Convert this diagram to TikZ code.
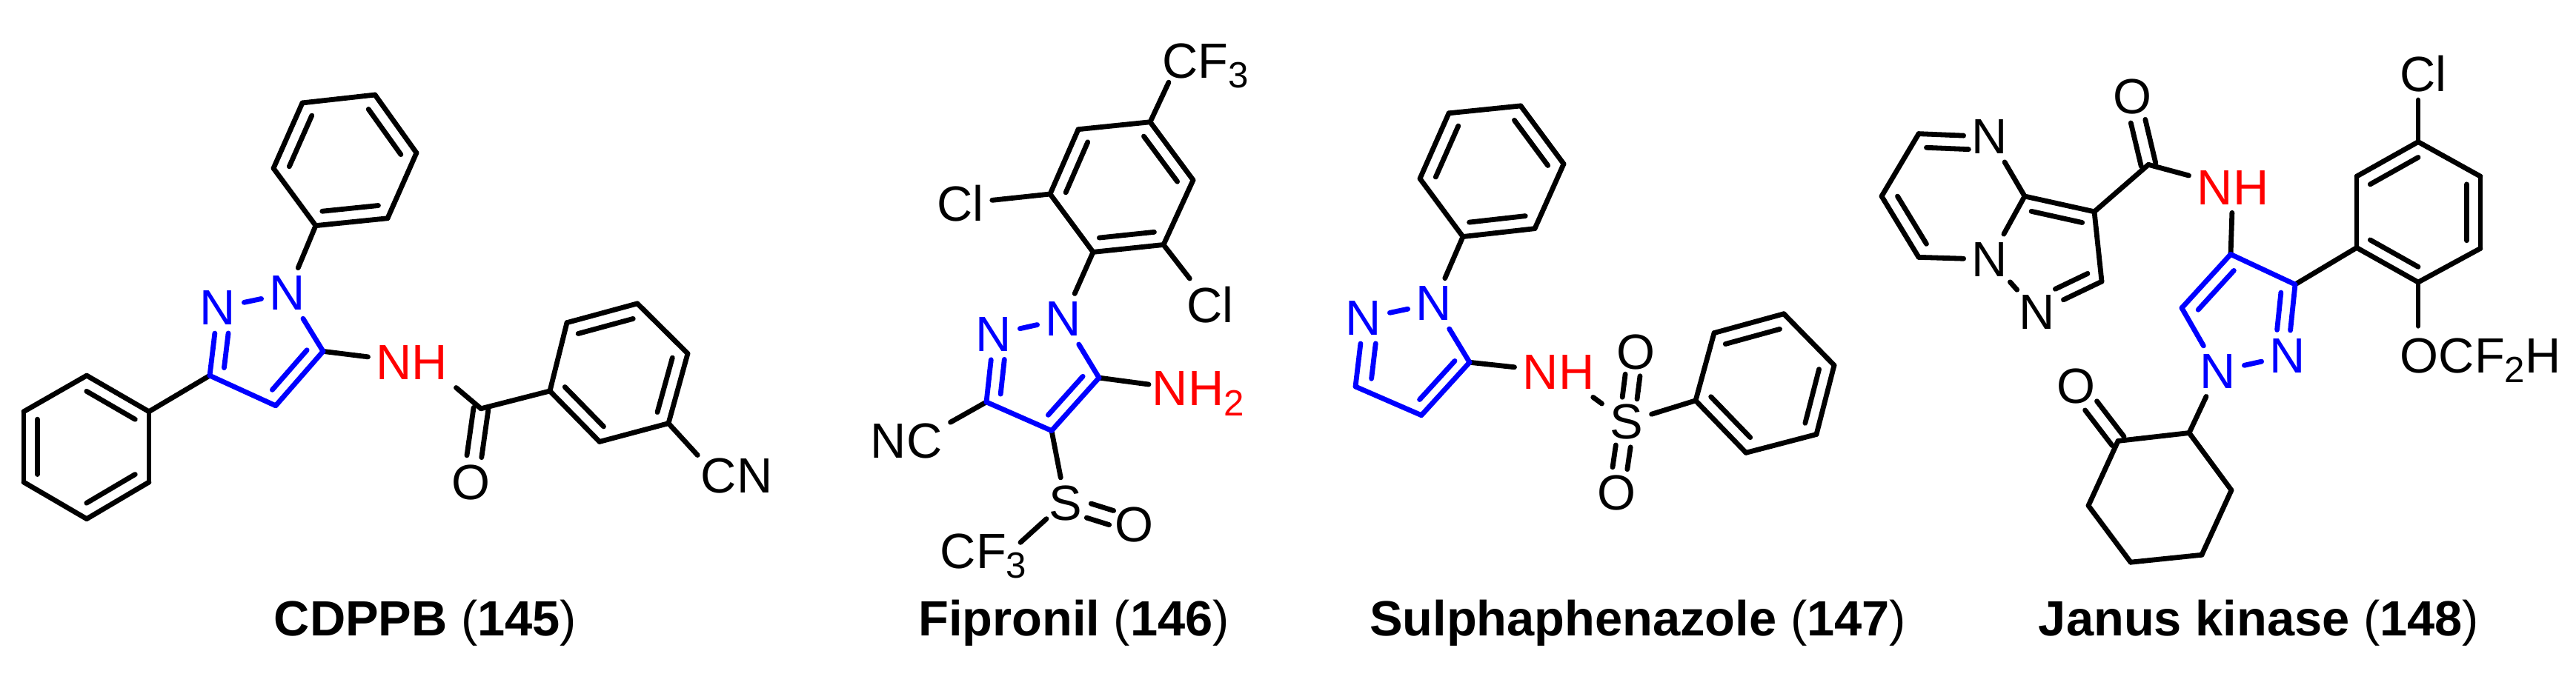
\documentclass[tikz,border=0pt]{standalone}
\usepackage{fontspec}
\setmainfont{Liberation Sans}
\usetikzlibrary{calc}

\definecolor{ringblue}{RGB}{0,0,255}
\definecolor{nhred}{RGB}{255,0,0}

\tikzset{
  bond/.style={color=black, line width=0.068cm, line cap=round},
  ringbond/.style={bond, color=ringblue},
  atom/.style={inner sep=3pt, font=\fontsize{19}{23}\selectfont},
  ringatom/.style={atom, text=ringblue},
  nhatom/.style={atom, text=nhred},
  caption/.style={anchor=base, inner sep=0pt, font=\fontsize{19}{23}\selectfont}
}

\newcommand{\subnum}[1]{\raisebox{-0.2em}{\fontsize{14}{14}\selectfont #1}}
% inner line of a ring double bond
\newcommand{\inbond}[5][bond]{\draw[#1] ($(#2)!#5!(#4)$) -- ($(#3)!#5!(#4)$);}
% free double bond, two lines round the axis
\newcommand{\bisbond}[4]{
  \foreach \s in {-0.1cm,0.1cm}
  {
  \draw[bond] ($(#1)!#3!(#2)!\s!90:(#2)$) -- ($(#2)!#4!(#1)!\s!-90:(#1)$);
  }
}

\begin{document}
\begin{tikzpicture}[x=0.01cm, y=-0.00992cm]
  \useasboundingbox (0,0) rectangle (3476,935.5);

  % CDPPB
  \foreach \name/\x/\y in {a1/32/560,a2/117/511,a3/201/560,a4/201/656,a5/117/706,a6/32/656,ca/116/608,
    b1/426/307,b2/523/297,b3/562/208,b4/506/129,b5/408/140,b6/369/229,cb/466/218,
    p3/283/511,p4/372/552,p5/436/478,cp/355/472,
    c1/649/556,d1/742/532,d2/765/439,d3/860/413,d4/928/481,d5/902/576,d6/809/601,cd/834/507}
  {
  \coordinate (\name) at (\x,\y);
  }
  \node[ringatom] (pn2) at (294,419) {N};
  \node[ringatom] (pn1) at (388,399) {N};
  \node[nhatom] (nh1) at (556,493) {NH};
  \node[atom] (o1) at (635,656) {O};
  \node[atom] (cn1) at (994,647) {CN};

  \foreach \a/\b in {a1/a2,a2/a3,a3/a4,a4/a5,a5/a6,a6/a1,b1/b2,b2/b3,b3/b4,b4/b5,b5/b6,b6/b1,
    d1/d2,d2/d3,d3/d4,d4/d5,d5/d6,d6/d1,a3/p3,b1/pn1,p5/nh1,c1/d1}
  {
  \draw[bond] (\a) -- (\b);
  }
  \foreach \a/\b in {a1/a6,a2/a3,a4/a5}{\inbond{\a}{\b}{ca}{0.22}}
  \foreach \a/\b in {b1/b2,b3/b4,b5/b6}{\inbond{\a}{\b}{cb}{0.22}}
  \foreach \a/\b in {d1/d6,d2/d3,d4/d5}{\inbond{\a}{\b}{cd}{0.22}}
  \foreach \a/\b in {p3/pn2,pn2/pn1,pn1/p5,p5/p4,p4/p3}
  {
  \draw[ringbond] (\a) -- (\b);
  }
  \inbond[ringbond, shorten >=0.2cm]{p3}{pn2}{cp}{0.27}
  \inbond[ringbond]{p4}{p5}{cp}{0.27}
  \draw[bond] (nh1.south east) -- (c1);
  \bisbond{c1}{o1}{0}{0.35}
  \draw[bond, shorten >=-0.1cm] (d5) -- (cn1.north west);
  \node[caption] (cap1) at (574,865) {\textbf{CDPPB} (\textbf{145})};

  % Fipronil
  \foreach \name/\x/\y in {e1/1475/343,e2/1570/333,e3/1610/245,e4/1552/166,e5/1455/176,e6/1417/264,ce/1513/254.5,
    q3/1331/547,q4/1419/586,q5/1483/514,cq/1402/507,
    f3a/1577/112,h2a/1550/523,f3b/1377/738,sb/1412/706}
  {
  \coordinate (\name) at (\x,\y);
  }
  \node[ringatom] (qn2) at (1341,455) {N};
  \node[ringatom] (qn1) at (1435,434) {N};
  \node[atom] (cl1) at (1296,277) {Cl};
  \node[atom] (cl2) at (1633,415) {Cl};
  \node[atom] (nc2) at (1223,600) {NC};
  \node[atom] (s2) at (1438,685) {S};
  \node[atom] (o2) at (1530,714) {O};
  \node[atom, anchor=base west] (cf3a) at (1557,106) {CF\subnum{3}};
  \node[atom, anchor=base west] (cf3b) at (1257.5,773) {CF\subnum{3}};
  \node[nhatom, anchor=base west] (nh2) at (1543.5,552) {NH\subnum{2}};

  \foreach \a/\b in {e1/e2,e2/e3,e3/e4,e4/e5,e5/e6,e6/e1,e4/f3a,e6/cl1,e2/cl2,e1/qn1,q5/h2a,q3/nc2.23,q4/s2,f3b/sb}
  {
  \draw[bond] (\a) -- (\b);
  }
  \foreach \a/\b in {e1/e2,e3/e4,e5/e6}{\inbond{\a}{\b}{ce}{0.22}}
  \foreach \a/\b in {q3/qn2,qn2/qn1,qn1/q5,q5/q4,q4/q3}
  {
  \draw[ringbond] (\a) -- (\b);
  }
  \inbond[ringbond, shorten >=0.2cm]{q3}{qn2}{cq}{0.27}
  \inbond[ringbond]{q4}{q5}{cq}{0.27}
  \bisbond{s2}{o2}{0.34}{0.33}
  \node[caption] (cap2) at (1449,865) {\textbf{Fipronil} (\textbf{146})};

  % Sulphaphenazole
  \foreach \name/\x/\y in {f1/1974/322,f2/2071/311,f3/2110/223,f4/2052/144,f5/1955/154,f6/1916/243,cf/2013/233,
    r3/1829/526,r4/1918/565,r5/1983/493,cr/1909/486,
    g1/2288/545,g2/2356/616,g3/2451/591,g4/2475/497,g5/2407/427,g6/2313/453,cg/2382/521.5}
  {
  \coordinate (\name) at (\x,\y);
  }
  \node[ringatom] (rn2) at (1840,433) {N};
  \node[ringatom] (rn1) at (1935,413) {N};
  \node[nhatom] (nh3) at (2103,506) {NH};
  \node[atom] (s3) at (2195,574) {S};
  \node[atom] (o3a) at (2207,479) {O};
  \node[atom] (o3b) at (2181,671) {O};

  \foreach \a/\b in {f1/f2,f2/f3,f3/f4,f4/f5,f5/f6,f6/f1,g1/g2,g2/g3,g3/g4,g4/g5,g5/g6,g6/g1,
    f1/rn1,r5/nh3,nh3/s3,s3/g1}
  {
  \draw[bond] (\a) -- (\b);
  }
  \foreach \a/\b in {f1/f2,f3/f4,f5/f6}{\inbond{\a}{\b}{cf}{0.22}}
  \foreach \a/\b in {g1/g2,g3/g4,g5/g6}{\inbond{\a}{\b}{cg}{0.22}}
  \foreach \a/\b in {r3/rn2,rn2/rn1,rn1/r5,r5/r4,r4/r3}
  {
  \draw[ringbond] (\a) -- (\b);
  }
  \inbond[ringbond, shorten >=0.2cm]{r3}{rn2}{cr}{0.27}
  \inbond[ringbond]{r4}{r5}{cr}{0.27}
  \bisbond{s3}{o3a}{0.34}{0.33}
  \bisbond{s3}{o3b}{0.34}{0.35}
  \node[caption] (cap3) at (2210,865) {\textbf{Sulphaphenazole} (\textbf{147})};

  % Janus kinase
  \foreach \name/\x/\y in {h1/2589/182,h3/2732/267,h5/2589/350,h6/2539/267,ch/2636.5/267.5,
    i1/2826/288,i2/2836/383,ci/2765.6/343,j1/2899/224,
    k3/3097/387,k4/3010/346,k5/2944/419,ck/3026/428,
    m1/3180/337,m2/3180/240,m3/3263/193,m4/3347/240,m5/3347/338,m6/3263/384,cm/3263/289,
    u1/2954/589,u2/2858/600,u3/2818/688,u4/2875/765,u5/2971/755,u6/3011/667}
  {
  \coordinate (\name) at (\x,\y);
  }
  \node[atom] (hn1) at (2685,186) {N};
  \node[atom] (hn2) at (2685,353) {N};
  \node[atom] (in1) at (2749,425) {N};
  \node[atom] (o4a) at (2877,131) {O};
  \node[atom] (o4b) at (2801,525) {O};
  \node[nhatom] (nh4) at (3013,255) {NH};
  \node[ringatom] (kn2) at (3087,484) {N};
  \node[ringatom] (kn1) at (2993,505) {N};
  \node[atom] (cl4) at (3270,100) {Cl};
  \node[atom, anchor=base west] (ocf) at (3227.5,507) {OCF\subnum{2}H};

  \foreach \a/\b in {h1/h6,h6/h5,h5/hn2,h1/hn1,hn1/h3,h3/hn2,h3/i1,i1/i2,i2/in1,i1/j1,j1/nh4,nh4/k4,
    k3/m1,m1/m2,m2/m3,m3/m4,m4/m5,m5/m6,m6/m1,kn1/u1,u1/u2,u2/u3,u3/u4,u4/u5,u5/u6,u6/u1}
  {
  \draw[bond] (\a) -- (\b);
  }
  \draw[bond, shorten <=-0.05cm, shorten >=-0.05cm] (hn2) -- (in1);
  \draw[bond] (m3) -- (m3 |- cl4.south);
  \draw[bond, shorten >=0.05cm] (m6) -- (m6 |- ocf.north);
  \inbond[bond, shorten >=0.18cm]{h1}{hn1}{ch}{0.22}
  \inbond{h5}{h6}{ch}{0.22}
  \inbond{h3}{i1}{ci}{0.27}
  \inbond[bond, shorten >=0.22cm]{i2}{in1}{ci}{0.27}
  \foreach \a/\b in {m1/m6,m2/m3,m4/m5}{\inbond{\a}{\b}{cm}{0.22}}
  \foreach \a/\b in {k3/kn2,kn2/kn1,kn1/k5,k5/k4,k4/k3}
  {
  \draw[ringbond] (\a) -- (\b);
  }
  \inbond[ringbond, shorten >=0.2cm]{k3}{kn2}{ck}{0.27}
  \inbond[ringbond]{k4}{k5}{ck}{0.27}
  \bisbond{j1}{o4a}{0}{0.365}
  \bisbond{u2}{o4b}{0}{0.36}
  \node[caption] (cap4) at (3048,865) {\textbf{Janus kinase} (\textbf{148})};
\end{tikzpicture}
\end{document}
